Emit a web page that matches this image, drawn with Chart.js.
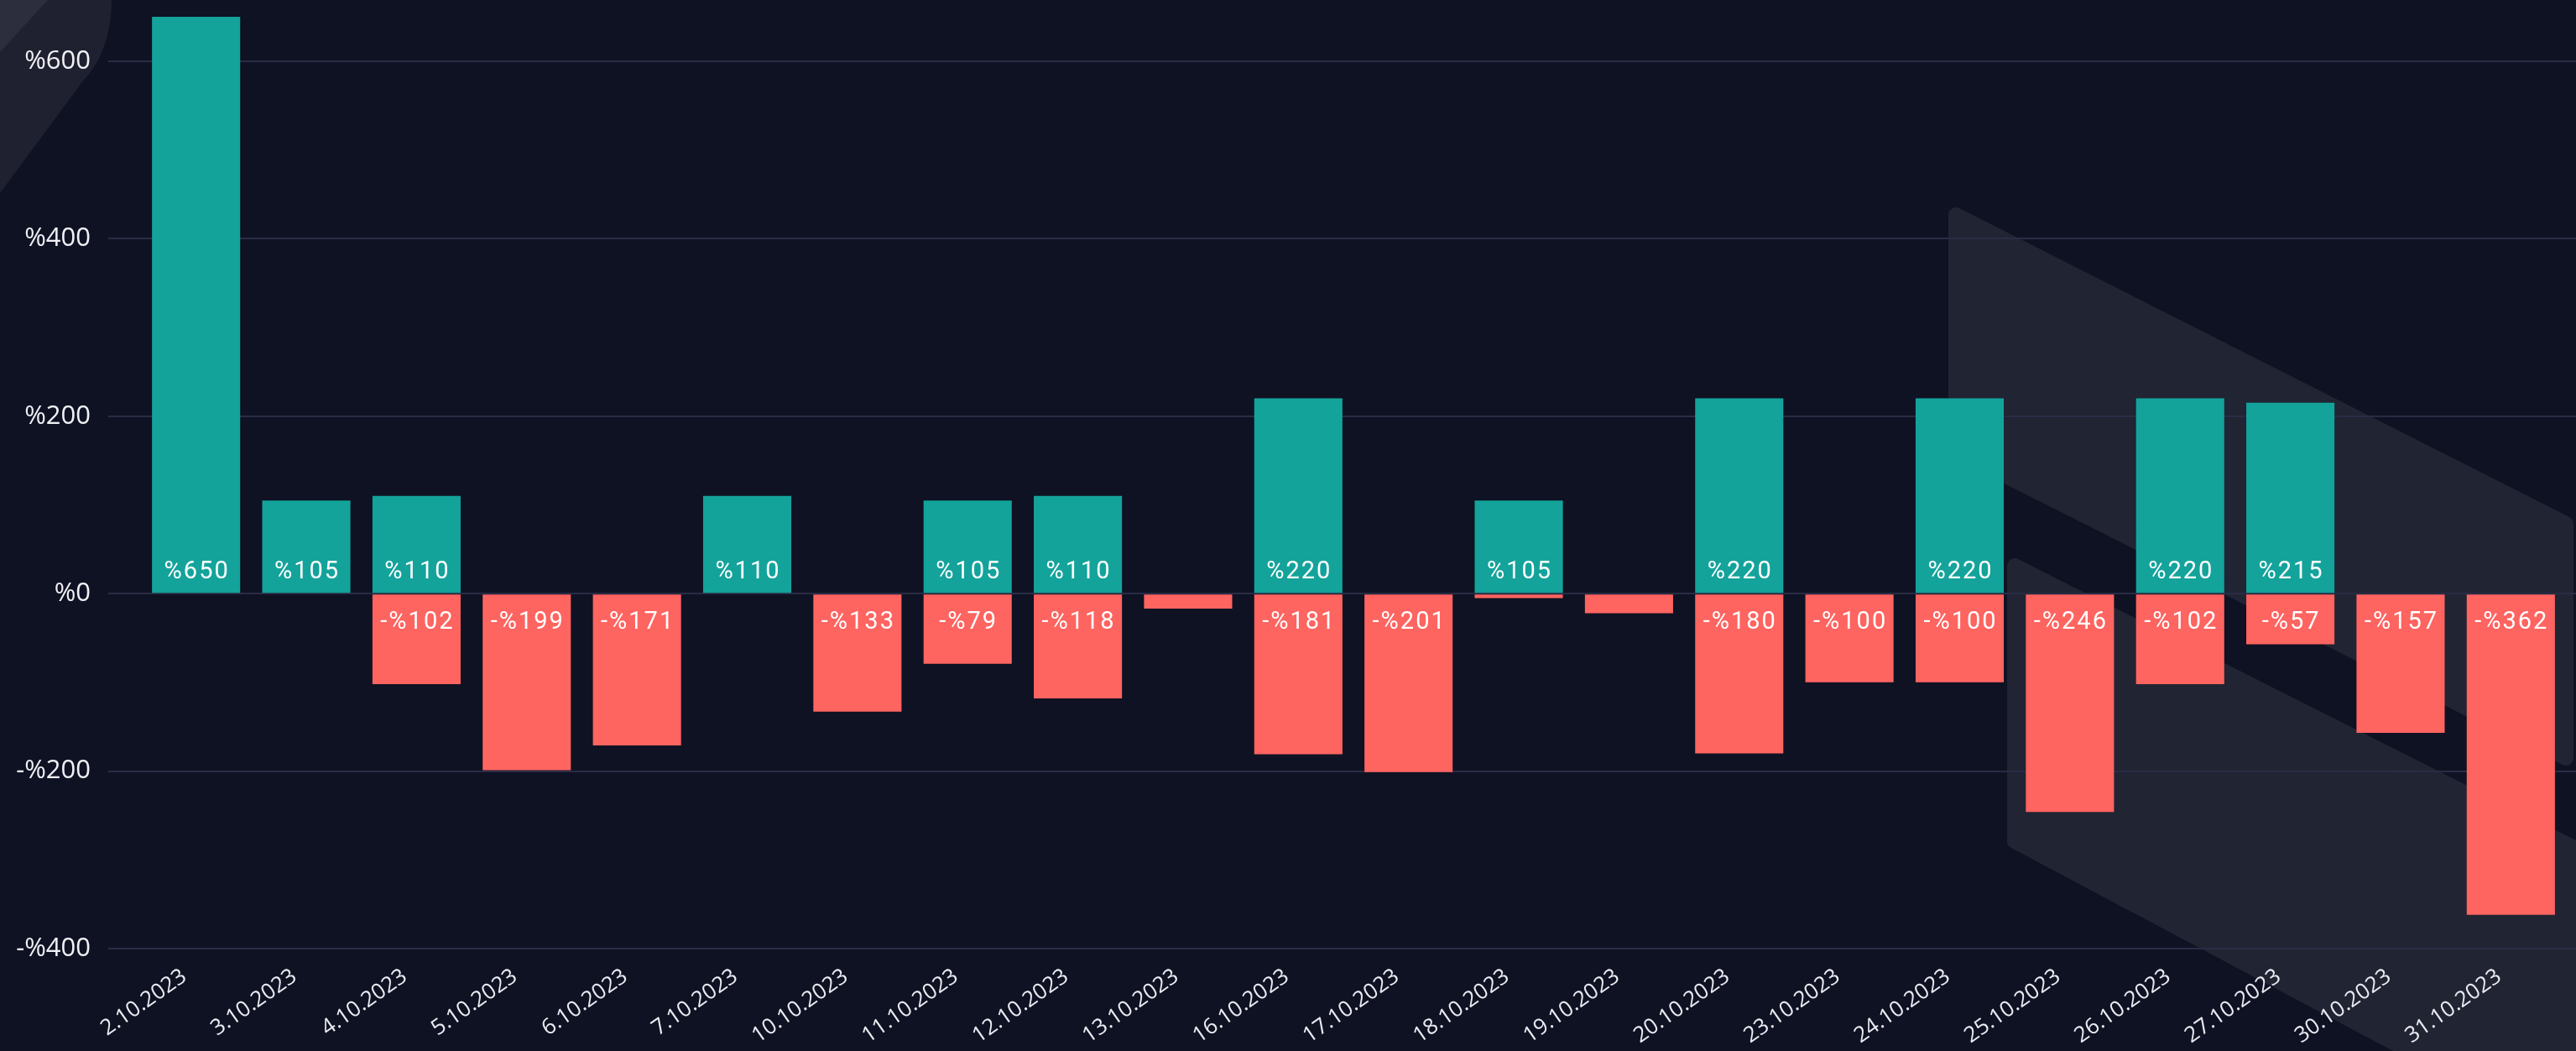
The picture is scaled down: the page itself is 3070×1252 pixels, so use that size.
<!DOCTYPE html>
<html>
<head>
<meta charset="utf-8">
<script src="https://cdn.jsdelivr.net/npm/chart.js@4.4.0/dist/chart.umd.min.js"></script>
<style>
  html, body { margin: 0; padding: 0; background: #0f1223; overflow: hidden; }
  #wrap { position: relative; width: 3070px; height: 1252px; }
  #deco { position: absolute; left: 0; top: 0; }
  #chart { position: absolute; left: 0; top: 0; }
</style>
</head>
<body>
<div id="wrap">
  <!-- background watermark shapes -->
  <svg id="deco" width="3070" height="1252" viewBox="0 0 3070 1252">
    <path d="M0,0 L133,0 C133,40 120,75 100,95 L0,230 Z" fill="#1f2130"/>
    <path d="M0,0 L57,0 L0,62 Z" fill="#2c2e3e"/>
    <polygon points="2331,256 3058,624 3058,903 2331,537" fill="#212433" stroke="#212433" stroke-width="18" stroke-linejoin="round"/>
    <polygon points="2401,674 3300,1127 3300,1480 2401,1002" fill="#212433" stroke="#212433" stroke-width="18" stroke-linejoin="round"/>
  </svg>
  <canvas id="chart" width="3070" height="1252"></canvas>
</div>
<script>
  'use strict';

  /* ---------------- data ---------------- */
  const dates = [
    '2.10.2023', '3.10.2023', '4.10.2023', '5.10.2023', '6.10.2023', '7.10.2023',
    '10.10.2023', '11.10.2023', '12.10.2023', '13.10.2023', '16.10.2023', '17.10.2023',
    '18.10.2023', '19.10.2023', '20.10.2023', '23.10.2023', '24.10.2023', '25.10.2023',
    '26.10.2023', '27.10.2023', '30.10.2023', '31.10.2023'
  ];
  const gains = [650, 105, 110, null, null, 110, null, 105, 110, null, 220, null,
                 105, null, 220, null, 220, null, 220, 215, null, null];
  const losses = [null, null, -102, -199, -171, null, -133, -79, -118, -17, -181, -201,
                  -5, -22, -180, -100, -100, -246, -102, -57, -157, -362];
  const yTicks = [-400, -200, 0, 200, 400, 600];

  function pct(v) {
    return (v < 0 ? '-%' : '%') + Math.abs(v);
  }

  /* ---------------- value labels inside bars ---------------- */
  const barLabels = {
    id: 'barLabels',
    afterDatasetsDraw(chart) {
      const ctx = chart.ctx;
      ctx.save();
      ctx.font = '400 29px Roboto';
      ctx.fillStyle = '#ffffff';
      ctx.textAlign = 'center';
      ctx.textBaseline = 'alphabetic';
      ctx.letterSpacing = '2px';
      chart.data.datasets.forEach((ds, i) => {
        chart.getDatasetMeta(i).data.forEach((bar, j) => {
          const v = ds.data[j];
          if (v == null || Math.abs(v) < 40) return;
          const y = v > 0 ? bar.base - 17 : bar.base + 41;
          ctx.fillText(pct(v), bar.x + 1, y);
        });
      });
      ctx.restore();
    }
  };

  // grid lines run on to the right edge of the canvas
  const gridToEdge = {
    id: 'gridToEdge',
    beforeDatasetsDraw(chart) {
      const ctx = chart.ctx, y = chart.scales.y, a = chart.chartArea;
      ctx.save();
      ctx.strokeStyle = '#2a2c45';
      ctx.lineWidth = 2;
      y.ticks.forEach(t => {
        const py = Math.round(y.getPixelForValue(t.value));
        ctx.beginPath();
        ctx.moveTo(a.right, py);
        ctx.lineTo(chart.width, py);
        ctx.stroke();
      });
      ctx.restore();
    }
  };

  /* ---------------- chart ---------------- */
  const ctx = document.getElementById('chart').getContext('2d');
  new Chart(ctx, {
    type: 'bar',
    data: {
      labels: dates,
      datasets: [
        { label: 'gain', data: gains, backgroundColor: '#13a39b', categoryPercentage: 0.8, barPercentage: 1.0 },
        { label: 'loss', data: losses, backgroundColor: '#fe6460', categoryPercentage: 0.8, barPercentage: 1.0 }
      ]
    },
    options: {
      responsive: false,
      animation: false,
      layout: { padding: { top: 20, right: 12, left: 0, bottom: 0 } },
      plugins: { legend: { display: false }, tooltip: { enabled: false } },
      scales: {
        x: {
          stacked: true,
          grid: { display: false },
          border: { display: false },
          ticks: {
            color: '#ebebf2',
            font: { family: '"Open Sans"', size: 26 },
            maxRotation: 35,
            minRotation: 35,
            padding: 10,
            labelOffset: -14,
            autoSkip: false
          },
          afterFit(scale) { scale.height = 122; }
        },
        y: {
          stacked: true,
          min: -400,
          max: 650,
          border: { display: false },
          grid: { color: '#2a2c45', lineWidth: 2, tickLength: 39 },
          afterBuildTicks(scale) { scale.ticks = yTicks.map(v => ({ value: v })); },
          ticks: {
            color: '#f0f0f5',
            font: { family: '"Open Sans"', size: 31 },
            padding: 21,
            callback: v => pct(v)
          },
          afterFit(scale) {
            scale.width = 168;
            scale.paddingTop = 0;
            scale.paddingBottom = 0;
          }
        }
      }
    },
    plugins: [gridToEdge, barLabels]
  });
</script>
</body>
</html>
